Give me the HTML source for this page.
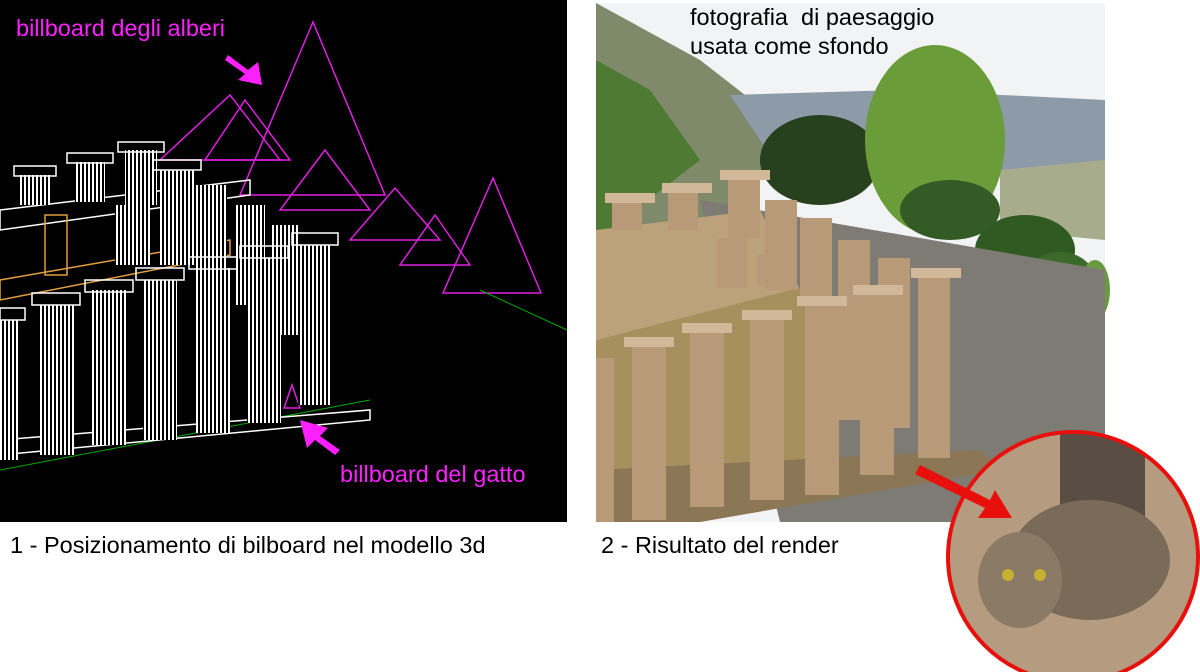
<!DOCTYPE html>
<html><head><meta charset="utf-8"><style>
body{margin:0;background:#fff;width:1200px;height:672px;overflow:hidden;font-family:"Liberation Sans",sans-serif}
.t{position:absolute;font-size:23.5px;color:#000;white-space:nowrap}
</style></head><body>
<svg width="1200" height="672" style="position:absolute;left:0;top:0">
<defs>
<pattern id="flute" width="4" height="10" patternUnits="userSpaceOnUse"><rect width="4" height="10" fill="#000"/><rect width="2" height="10" fill="#fff"/></pattern>
<clipPath id="cc"><circle cx="1073" cy="557" r="125"/></clipPath>
</defs>
<rect x="0" y="0" width="567" height="522" fill="#000"/>
<g fill="none" stroke="#e020e0" stroke-width="1.5">
<polygon points="313,22 240,195 385,195"/>
<polygon points="230,95 160,160 280,160"/>
<polygon points="245,100 205,160 290,160"/>
<polygon points="325,150 280,210 370,210"/>
<polygon points="395,188 350,240 440,240"/>
<polygon points="435,215 400,265 470,265"/>
<polygon points="493,178 443,293 541,293"/>
<polygon points="292,385 284,408 300,408"/>
</g>
<g stroke="#0a0" stroke-width="1"><line x1="0" y1="470" x2="370" y2="400"/><line x1="480" y1="290" x2="567" y2="330"/></g>
<g fill="none" stroke="#fff" stroke-width="1.5">
<polygon points="0,440 370,410 370,420 0,455"/>
<polygon points="0,210 250,180 250,195 0,230"/>
</g>
<g stroke="#e0a040" fill="none" stroke-width="1.5"><polygon points="0,280 230,240 230,255 0,300"/><rect x="45" y="215" width="22" height="60"/></g>
<g fill="url(#flute)">
<rect x="0" y="320" width="18" height="140"/>
<rect x="40" y="305" width="34" height="150"/>
<rect x="92" y="290" width="34" height="155"/>
<rect x="143" y="280" width="34" height="160"/>
<rect x="196" y="268" width="34" height="165"/>
<rect x="247" y="258" width="34" height="165"/>
<rect x="298" y="245" width="32" height="160"/>
<rect x="20" y="175" width="30" height="30"/>
<rect x="75" y="162" width="30" height="40"/>
<rect x="125" y="150" width="32" height="55"/>
<rect x="160" y="170" width="35" height="95"/>
<rect x="115" y="205" width="35" height="60"/>
<rect x="195" y="185" width="32" height="95"/>
<rect x="235" y="205" width="30" height="100"/>
<rect x="270" y="225" width="30" height="110"/>
</g>
<g fill="none" stroke="#fff" stroke-width="1.5">
<rect x="0" y="308" width="25" height="12"/><rect x="32" y="293" width="48" height="12"/><rect x="85" y="280" width="48" height="12"/><rect x="136" y="268" width="48" height="12"/><rect x="189" y="257" width="48" height="12"/><rect x="240" y="246" width="48" height="12"/><rect x="292" y="233" width="46" height="12"/>
<rect x="14" y="166" width="42" height="10"/><rect x="67" y="153" width="46" height="10"/><rect x="118" y="142" width="46" height="10"/><rect x="153" y="160" width="48" height="10"/>
</g>
<polygon points="228,55 248,70 258,62 262,85 238,80 245,74 225,60" fill="#ff20ff"/>
<polygon points="335,455 315,440 307,448 300,420 328,428 320,436 340,450" fill="#ff20ff"/>
<rect x="596" y="3" width="509" height="519" fill="#f2f3f4"/>
<polygon points="596,3 700,60 790,130 720,240 596,260" fill="#7e8a6a"/>
<polygon points="596,60 650,90 700,160 596,240" fill="#4f7a34"/>
<polygon points="730,95 900,90 1105,100 1105,180 780,170" fill="#8d9aa8"/>
<polygon points="1000,170 1105,160 1105,240 1000,230" fill="#a7ad8c"/>
<ellipse cx="820" cy="160" rx="60" ry="45" fill="#27401e"/>
<ellipse cx="935" cy="140" rx="70" ry="95" fill="#6b9c3a"/>
<ellipse cx="950" cy="210" rx="50" ry="30" fill="#345a26"/>
<ellipse cx="1025" cy="250" rx="50" ry="35" fill="#2f5a22"/>
<ellipse cx="1060" cy="280" rx="35" ry="28" fill="#3b6a2a"/>
<ellipse cx="1095" cy="290" rx="15" ry="30" fill="#6a9a40"/>
<polygon points="700,200 1105,270 1105,522 780,522" fill="#7d7b73"/>
<polygon points="596,230 760,210 800,290 596,340" fill="#bba27a"/>
<polygon points="596,340 830,280 830,460 596,522" fill="#a6905e"/>
<polygon points="596,470 980,450 1000,470 700,522 596,522" fill="#8b7656"/>
<g fill="#b89a78">
<rect x="612" y="200" width="30" height="30"/><rect x="668" y="190" width="30" height="40"/><rect x="728" y="178" width="32" height="60"/>
<rect x="765" y="200" width="32" height="90"/><rect x="800" y="218" width="32" height="80"/><rect x="838" y="240" width="32" height="180"/><rect x="878" y="258" width="32" height="170"/><rect x="918" y="278" width="32" height="180"/>
<rect x="860" y="295" width="34" height="180"/><rect x="805" y="305" width="34" height="190"/>
<rect x="750" y="320" width="34" height="180"/><rect x="690" y="332" width="34" height="175"/><rect x="632" y="345" width="34" height="175"/><rect x="596" y="358" width="18" height="164"/>
<rect x="717" y="238" width="30" height="50"/><rect x="757" y="255" width="30" height="30"/>
</g>
<g fill="#d0b898"><rect x="624" y="337" width="50" height="10"/><rect x="682" y="323" width="50" height="10"/><rect x="742" y="310" width="50" height="10"/><rect x="797" y="296" width="50" height="10"/><rect x="853" y="285" width="50" height="10"/><rect x="911" y="268" width="50" height="10"/><rect x="720" y="170" width="50" height="10"/><rect x="605" y="193" width="50" height="10"/><rect x="662" y="183" width="50" height="10"/></g>
<g clip-path="url(#cc)">
<rect x="945" y="430" width="260" height="260" fill="#b59c80"/>
<rect x="1060" y="430" width="85" height="110" fill="#5a4e44"/>
<ellipse cx="1090" cy="560" rx="80" ry="60" fill="#7a6a58"/>
<ellipse cx="1020" cy="580" rx="42" ry="48" fill="#8a7a66"/>
<circle cx="1008" cy="575" r="6" fill="#c8b030"/><circle cx="1040" cy="575" r="6" fill="#c8b030"/>
</g>
<circle cx="1073" cy="557" r="125" fill="none" stroke="#e8100c" stroke-width="4"/>
<polygon points="920,465 990,500 995,490 1012,518 978,518 985,508 915,474" fill="#e8100c"/>
</svg>
<div class="t" style="left:16px;top:15px;color:#ff20ff">billboard degli alberi</div>
<div class="t" style="left:340px;top:461px;color:#ff20ff">billboard del gatto</div>
<div class="t" style="left:690px;top:3px;line-height:29px">fotografia&nbsp; di paesaggio<br>usata come sfondo</div>
<div class="t" style="left:10px;top:532px">1 - Posizionamento di bilboard nel modello 3d</div>
<div class="t" style="left:601px;top:532px">2 - Risultato del render</div>
</body></html>
